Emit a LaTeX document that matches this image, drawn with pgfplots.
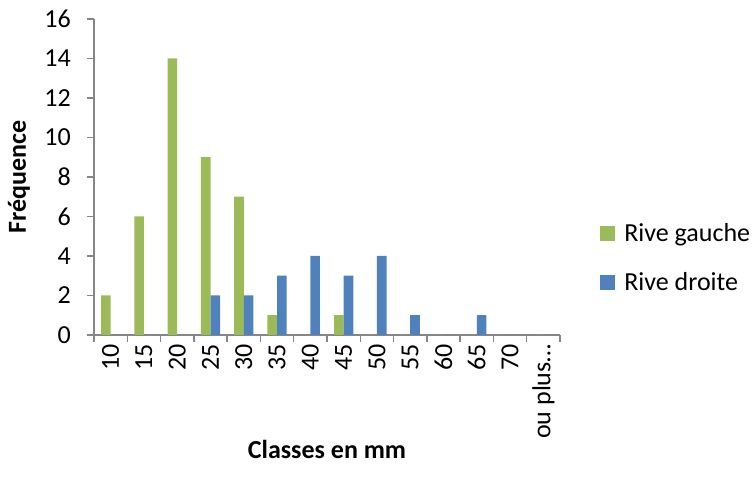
\documentclass[border=0pt]{standalone}
\usepackage{pgfplots}
\pgfplotsset{compat=1.18}
\usepackage{fontspec}
\setmainfont{Carlito}

\definecolor{gauche}{HTML}{9BBB59}
\definecolor{droite}{HTML}{4F81BD}
\definecolor{axegris}{HTML}{868686}

\begin{document}
\begin{tikzpicture}[x=1bp,y=1bp]
\useasboundingbox (0,0) rectangle (754,487);
\begin{axis}[
  at={(94bp,152bp)}, anchor=south west,
  scale only axis, width=466bp, height=316bp,
  font=\fontsize{26bp}{31bp}\selectfont,
  /pgf/number format/assume math mode=true,
  ybar=0pt, bar width=9.6bp,
  xmin=-0.5, xmax=13.5,
  ymin=0, ymax=16,
  ytick={0,2,...,16},
  xtick={-0.5,0.5,1.5,2.5,3.5,4.5,5.5,6.5,7.5,8.5,9.5,10.5,11.5,12.5,13.5},
  x tick label as interval,
  xticklabels={10,15,20,25,30,35,40,45,50,55,60,65,70,{ou plus\ldots}},
  xticklabel style={rotate=90, anchor=east, inner sep=2bp},
  yticklabel style={anchor=east, inner sep=0pt, xshift=-16bp},
  axis lines*=left,
  axis line style={draw=axegris, line width=1.5bp},
  tick style={draw=axegris, line width=1.5bp},
  tick align=outside,
  major tick length=7bp,
  xlabel={\bfseries Classes en mm},
  ylabel={\bfseries Fréquence},
  xlabel style={at={(axis description cs:0.5,-0.361)}, anchor=center},
  ylabel style={at={(axis description cs:-0.161,0.5)}, anchor=center},
  legend style={at={(rel axis cs:1.086,0.244)}, anchor=west, draw=none, fill=none,
    row sep=30bp, inner sep=0pt, nodes={inner sep=0pt}},
  legend cell align=left,
  legend image code/.code={\fill[#1] (0bp,-7.5bp) rectangle (15bp,7.5bp);},
]
\addplot[fill=gauche, draw=none] coordinates {
  (0,2) (1,6) (2,14) (3,9) (4,7) (5,1) (6,0) (7,1) (8,0) (9,0) (10,0) (11,0) (12,0) (13,0)};
\addlegendentry{\hspace*{9bp}Rive gauche}
\addplot[fill=droite, draw=none] coordinates {
  (0,0) (1,0) (2,0) (3,2) (4,2) (5,3) (6,4) (7,3) (8,4) (9,1) (10,0) (11,1) (12,0) (13,0)};
\addlegendentry{\hspace*{9bp}Rive droite}
\end{axis}
\end{tikzpicture}
\end{document}
